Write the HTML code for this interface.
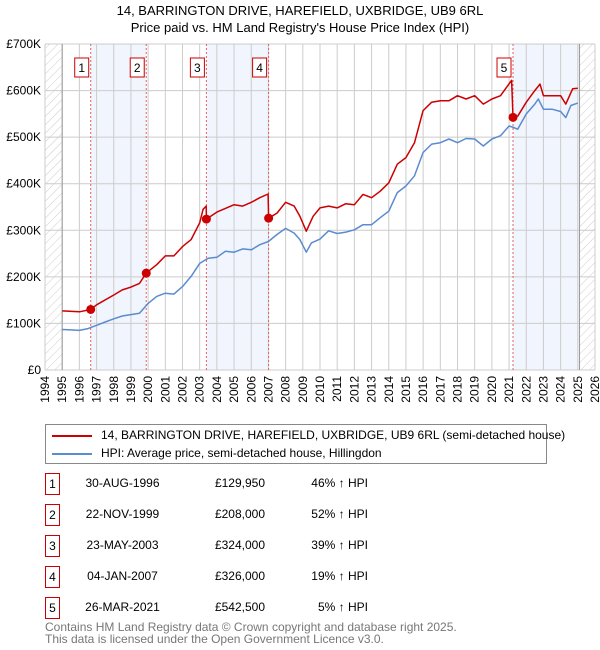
<!DOCTYPE html>
<html><head><meta charset="utf-8">
<style>
body{margin:0;background:#fff;font-family:"Liberation Sans","DejaVu Sans",sans-serif;}
#wrap{position:relative;width:600px;height:650px;overflow:hidden;}
.t{position:absolute;font-size:12px;color:#000;white-space:nowrap;}
.box{position:absolute;width:13px;height:20px;border:1px solid #c00;font-size:12px;text-align:center;line-height:20px;}
</style></head><body>
<div id="wrap">
<div class="t" style="left:0;width:600px;text-align:center;top:3px;font-size:13px;">14, BARRINGTON DRIVE, HAREFIELD, UXBRIDGE, UB9 6RL</div>
<div class="t" style="left:0;width:600px;text-align:center;top:20px;font-size:13px;">Price paid vs. HM Land Registry's House Price Index (HPI)</div>
<svg id="chart" width="600" height="420" style="position:absolute;left:0;top:0">
<defs><pattern id="hatch" width="6" height="6" patternUnits="userSpaceOnUse" patternTransform="rotate(45)"><line x1="0" y1="0" x2="0" y2="6" stroke="#ccc" stroke-width="1"/></pattern></defs>
</svg>
<div style="position:absolute;left:45px;top:424px;width:500px;height:38px;border:1px solid #888;">
<div style="position:absolute;left:6px;top:10px;width:40px;height:2px;background:#c00"></div>
<div class="t" style="left:55px;top:3px;">14, BARRINGTON DRIVE, HAREFIELD, UXBRIDGE, UB9 6RL (semi-detached house)</div>
<div style="position:absolute;left:6px;top:28px;width:40px;height:2px;background:#5b8bd0"></div>
<div class="t" style="left:55px;top:21px;">HPI: Average price, semi-detached house, Hillingdon</div>
</div>
<div id="table"></div>
<div class="t" style="left:45px;top:620px;color:#777;">Contains HM Land Registry data © Crown copyright and database right 2025.</div>
<div class="t" style="left:45px;top:632px;color:#777;">This data is licensed under the Open Government Licence v3.0.</div>
</div>
<script>
const hpiYears=[1995,1995.5,1996,1996.5,1997,1997.5,1998,1998.5,1999,1999.5,2000,2000.5,2001,2001.5,2002,2002.5,2003,2003.5,2004,2004.5,2005,2005.5,2006,2006.5,2007,2007.5,2008,2008.5,2008.83,2009.2,2009.5,2010,2010.5,2011,2011.5,2012,2012.5,2013,2013.5,2014,2014.5,2015,2015.5,2016,2016.5,2017,2017.5,2018,2018.5,2019,2019.5,2020,2020.5,2021,2021.25,2021.5,2022,2022.5,2022.7,2023,2023.5,2024,2024.3,2024.6,2025];
const hpiValues=[87,86,85,89,96,103,110,116,119,122,143,158,165,163,179,201,229,240,242,255,253,260,258,269,276,291,304,294,280,253,273,281,299,293,296,301,312,312,327,341,381,395,417,467,485,488,496,488,497,496,481,496,503,524,521,517,550,571,582,560,560,555,542,568,573];
const priceYears=[1995,1996,1996.66,1997,1998,1998.5,1999,1999.5,1999.89,2000.5,2001,2001.5,2002,2002.5,2003,2003.2,2003.38,2003.39,2004,2005,2005.5,2006,2006.5,2006.98,2007.01,2007.5,2008,2008.5,2008.83,2009.2,2009.6,2010,2010.5,2011,2011.5,2012,2012.5,2013,2013.5,2014,2014.5,2015,2015.5,2016,2016.5,2017,2017.5,2018,2018.5,2019,2019.5,2020,2020.5,2021.15,2021.23,2021.5,2022,2022.5,2022.8,2023,2023.5,2024,2024.3,2024.7,2025];
const priceValues=[127,125,130,140,161,172,178,186,208,226,245,245,265,280,316,345,352,324,339,355,352,360,370,378,326,337,360,352,330,298,330,348,352,348,357,355,377,370,384,402,442,456,488,557,575,578,578,589,582,589,571,582,589,622,542.5,545,575,600,614,589,589,589,571,604,605];
const saleLabels=["1","2","3","4","5"];
const saleYears=[1996.66,1999.89,2003.39,2007.01,2021.23];
const saleValues=[129.95,208,324,326,542.5];
const saleDates=["30-AUG-1996","22-NOV-1999","23-MAY-2003","04-JAN-2007","26-MAR-2021"];
const salePrices=["£129,950","£208,000","£324,000","£326,000","£542,500"];
const salePcts=["46% ↑ HPI","52% ↑ HPI","39% ↑ HPI","19% ↑ HPI","5% ↑ HPI"];
const yTicks=[0,100,200,300,400,500,600,700];
const yTickLabels=["£0","£100K","£200K","£300K","£400K","£500K","£600K","£700K"];
const xTicks=[1994,1995,1996,1997,1998,1999,2000,2001,2002,2003,2004,2005,2006,2007,2008,2009,2010,2011,2012,2013,2014,2015,2016,2017,2018,2019,2020,2021,2022,2023,2024,2025,2026];

const X0=45,X1=595,Y0=370,Y1=44,dataEnd=2025.1;
const xs=y=>X0+(y-1994)/(2026-1994)*(X1-X0);
const ys=v=>Y0-v/700*(Y0-Y1);
const NS="http://www.w3.org/2000/svg";
const svg=document.getElementById('chart');
function mk(tag,attrs,parent){const e=document.createElementNS(NS,tag);for(const k in attrs)e.setAttribute(k,attrs[k]);(parent||svg).appendChild(e);return e;}

for(let i=0;i<saleYears.length;i+=2){
  const a=saleYears[i],b=i+1<saleYears.length?saleYears[i+1]:dataEnd;
  const r=mk('rect',{x:xs(a),y:Y1,width:xs(b)-xs(a),height:Y0-Y1,fill:'#eef3fc',opacity:0.8});
  
  
}
let h1=mk('rect',{x:X0,y:Y1,width:xs(1995)-X0,height:Y0-Y1,fill:'url(#hatch)'});


let h2=mk('rect',{x:xs(dataEnd),y:Y1,width:X1-xs(dataEnd),height:Y0-Y1,fill:'url(#hatch)'});


xTicks.forEach(t=>{
  const l=mk('line',{x1:xs(t),x2:xs(t),y1:Y1,y2:Y0,stroke:'#ccc','stroke-width':1});
  
  
  const tx=mk('text',{x:0,y:0,'font-size':12,'text-anchor':'end',transform:`translate(${xs(t)+4},${Y0+6}) rotate(-90)`,fill:'#000'});
  tx.textContent=t;
  
  
});
yTicks.forEach((t,i)=>{
  const l=mk('line',{x1:X0,x2:X1,y1:ys(t),y2:ys(t),stroke:'#ccc','stroke-width':1});
  
  
  const tx=mk('text',{x:X0-4,y:ys(t)+4,'font-size':12,'text-anchor':'end',fill:'#000'});
  tx.textContent=yTickLabels[i];
  
  
});
let ax=mk('line',{x1:xs(1995),x2:xs(1995),y1:Y1,y2:Y0,stroke:'#999','stroke-width':1});


let ax2=mk('line',{x1:xs(dataEnd),x2:xs(dataEnd),y1:Y1,y2:Y0,stroke:'#999','stroke-width':1});


saleYears.forEach((y,i)=>{
  const l=mk('line',{x1:xs(y),x2:xs(y),y1:Y1,y2:Y0,stroke:'#e06060','stroke-width':1,'stroke-dasharray':'2,2'});
  
  
  const g=mk('g',{});
  
  
  mk('rect',{x:xs(y)-16,y:58,width:14,height:19,fill:'#fff',stroke:'#c00'},g);
  const t=mk('text',{x:xs(y)-9,y:72,'font-size':12,'text-anchor':'middle'},g);t.textContent=saleLabels[i];
});
function path(xa,va,color,name){
  let d='';xa.forEach((y,i)=>{d+=(i?'L':'M')+xs(y).toFixed(1)+','+ys(va[i]).toFixed(1);});
  const p=mk('path',{d:d,fill:'none',stroke:color,'stroke-width':1.5,'stroke-linejoin':'round'});
  
  
}
path(hpiYears,hpiValues,'#5b8bd0','hpi-line');
path(priceYears,priceValues,'#cc0000','price-line');
saleYears.forEach((y,i)=>{
  const c=mk('circle',{cx:xs(y),cy:ys(saleValues[i]),r:4.5,fill:'#cc0000'});
  
  
});
const tb=document.getElementById('table');
saleLabels.forEach((s,i)=>{
  const top=473+i*31;
  const b=document.createElement('div');b.className='box';b.style.left='45px';b.style.top=top+'px';b.textContent=s;
  
  
  tb.appendChild(b);
  const cells=[[saleDates[i],60,125,'center'],[salePrices[i],190,75,'right'],[salePcts[i],290,78,'right']];
  cells.forEach(c=>{const d=document.createElement('div');d.className='t';d.textContent=c[0];
    d.style.left=c[1]+'px';d.style.width=c[2]+'px';d.style.textAlign=c[3];d.style.top=(top+3)+'px';
    
    
    tb.appendChild(d);});
});
</script>
</body></html>
